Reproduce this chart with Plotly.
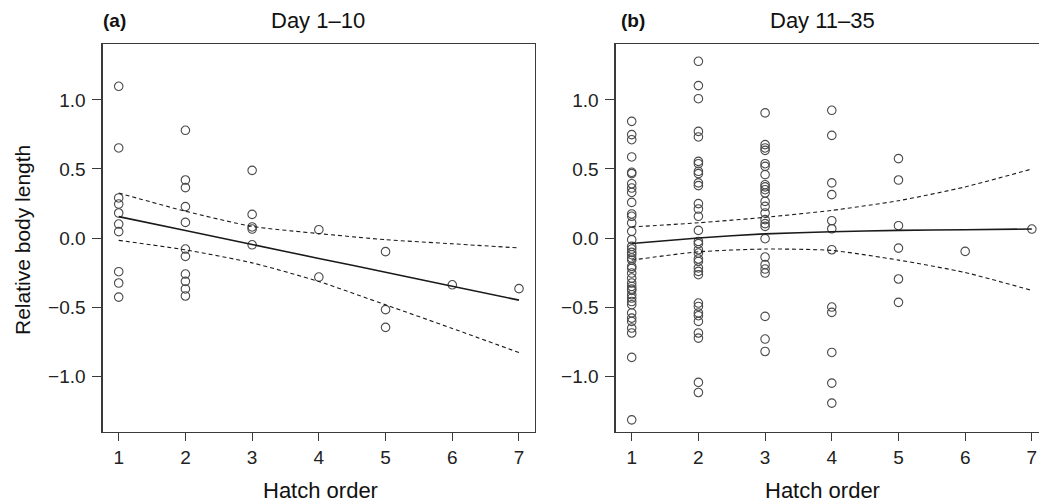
import plotly.graph_objects as go

W, H = 1039, 503

# ---------------- data: panel (a) Day 1–10 ----------------
a_x = [1]*10 + [2]*11 + [3]*5 + [4]*2 + [5]*3 + [6] + [7]
a_y = [1.099, 0.652, 0.29, 0.246, 0.181, 0.101, 0.046, -0.244, -0.326, -0.428,
       0.780, 0.420, 0.365, 0.227, 0.113, -0.08, -0.133, -0.261, -0.314, -0.369, -0.420,
       0.490, 0.171, 0.08, 0.065, -0.049,
       0.060, -0.283,
       -0.099, -0.519, -0.647,
       -0.339,
       -0.367]
line_x = [1, 2, 3, 4, 5, 6, 7]
a_fit = [0.155, 0.054, -0.047, -0.148, -0.248, -0.349, -0.45]
a_upper = [0.326, 0.194, 0.084, 0.032, -0.012, -0.042, -0.072]
a_lower = [-0.017, -0.086, -0.18, -0.315, -0.484, -0.655, -0.83]

# ---------------- data: panel (b) Day 11–35 ----------------
b1 = [0.845, 0.749, 0.712, 0.587, 0.476, 0.466, 0.393, 0.362, 0.330, 0.258, 0.174, 0.157,
      0.109, 0.048, -0.012, -0.061, -0.08, -0.104, -0.121, -0.145, -0.16, -0.206, -0.22,
      -0.254, -0.290, -0.326, -0.351, -0.37, -0.380, -0.411, -0.435, -0.46, -0.483,
      -0.543, -0.58, -0.604, -0.652, -0.688, -0.865, -1.317]
b2 = [1.280, 1.104, 1.009, 0.772, 0.732, 0.555, 0.538, 0.483, 0.466, 0.399, 0.379, 0.249,
      0.210, 0.157, 0.055, -0.025, -0.041, -0.085, -0.109, -0.152, -0.170, -0.217, -0.242,
      -0.266, -0.471, -0.496, -0.543, -0.563, -0.604, -0.688, -0.725, -1.046, -1.119]
b3 = [0.906, 0.676, 0.652, 0.635, 0.538, 0.519, 0.459, 0.386, 0.370, 0.350, 0.326, 0.265,
      0.229, 0.181, 0.133, 0.104, 0.084, -0.005, -0.138, -0.193, -0.225, -0.254, -0.568,
      -0.732, -0.822]
b4 = [0.925, 0.743, 0.399, 0.314, 0.125, 0.067, -0.085, -0.500, -0.539, -0.829, -1.051, -1.196]
b5 = [0.575, 0.420, 0.089, -0.073, -0.297, -0.466]
b6 = [-0.097]
b7 = [0.065]
b_groups = [b1, b2, b3, b4, b5, b6, b7]
b_x = [i + 1 for i, g in enumerate(b_groups) for _ in g]
b_y = [v for g in b_groups for v in g]
b_fit = [-0.04, 0.0, 0.03, 0.045, 0.055, 0.06, 0.065]
b_upper = [0.08, 0.11, 0.15, 0.20, 0.27, 0.37, 0.50]
b_lower = [-0.16, -0.10, -0.08, -0.09, -0.16, -0.25, -0.38]

y_ticks = [-1.0, -0.5, 0.0, 0.5, 1.0]
x_ticks = [1, 2, 3, 4, 5, 6, 7]

FONT = "Liberation Sans, Arial, Helvetica, sans-serif"
AX = "#3a3a3a"
PT = "#4a4a4a"

def px_x(p):
    return p / W

def px_y(p):
    return 1 - p / H

fig = go.Figure()

def add_panel(xs, ys, fit, up, lo, xa, ya):
    fig.add_trace(go.Scatter(x=xs, y=ys, mode="markers", xaxis=xa, yaxis=ya, cliponaxis=False,
                             marker=dict(symbol="circle-open", size=8.5, color=PT,
                                         line=dict(width=1.1, color=PT)),
                             showlegend=False, hoverinfo="skip"))
    for vals, dash, w in ((up, "4px,3px", 1.1), (lo, "4px,3px", 1.1), (fit, "solid", 1.6)):
        fig.add_trace(go.Scatter(x=line_x, y=vals, mode="lines", xaxis=xa, yaxis=ya,
                                 line=dict(color="#1a1a1a", width=w, dash=dash, shape="spline",
                                           smoothing=0.6),
                                 showlegend=False, hoverinfo="skip"))

add_panel(a_x, a_y, a_fit, a_upper, a_lower, "x", "y")
add_panel(b_x, b_y, b_fit, b_upper, b_lower, "x2", "y2")

ydom = [px_y(431.7), px_y(44.3)]
yr = [-1.403, 1.403]

common_x = dict(tickmode="array", tickvals=x_ticks, ticks="outside", ticklen=8, tickwidth=1,
                tickcolor=AX, showline=True, linecolor=AX, linewidth=1.3, mirror=True,
                showgrid=False, zeroline=False, tickfont=dict(family=FONT, size=19, color="#222"))
common_y = dict(tickmode="array", tickvals=y_ticks, tickformat=".1f", ticks="outside",
                ticklen=9, tickwidth=1, tickcolor=AX, showline=True, linecolor=AX,
                linewidth=1.3, showgrid=False, zeroline=False, range=yr, domain=ydom,
                ticklabelstandoff=3,
                tickfont=dict(family=FONT, size=19, color="#222"))

fig.update_layout(
    width=W, height=H,
    margin=dict(l=0, r=0, t=0, b=0),
    paper_bgcolor="white", plot_bgcolor="white",
    hovermode=False,
    xaxis=dict(domain=[px_x(102.7), px_x(535)], range=[0.76, 7.24], anchor="y", **common_x),
    yaxis=dict(anchor="x", mirror=True, **common_y),
    xaxis2=dict(domain=[px_x(615.7), 1.0], range=[0.76, 7.107], anchor="y2", **common_x),
    yaxis2=dict(anchor="x2", mirror=False, **common_y),
)

ann = []
def text(x, y, s, size, bold=False, xanchor="center", angle=0):
    ann.append(dict(x=px_x(x), y=px_y(y), xref="paper", yref="paper", text=(f"<b>{s}</b>" if bold else s),
                    showarrow=False, xanchor=xanchor, yanchor="middle", textangle=angle,
                    font=dict(family=FONT, size=size, color="#111")))

text(101, 21, "(a)", 19, bold=True, xanchor="left")
text(619, 21, "(b)", 19, bold=True, xanchor="left")
text(318, 21, "Day 1–10", 22)
text(822, 21, "Day 11–35", 22)
text(320, 490, "Hatch order", 22)
text(822, 490, "Hatch order", 22)
text(22, 240, "Relative body length", 21, angle=-90)
fig.update_layout(annotations=ann)

fig.write_html("out.html",
               config={"displayModeBar": False, "staticPlot": True},
               post_script="document.body.style.margin='0';"
                           "document.body.style.padding='0';"
                           "document.documentElement.style.overflow='hidden';"
                           "document.body.style.overflow='hidden';")
